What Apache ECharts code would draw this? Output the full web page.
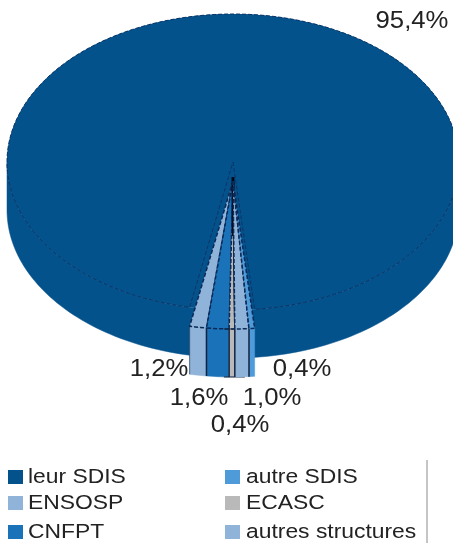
<!DOCTYPE html>
<html>
<head>
<meta charset="utf-8">
<style>html,body{margin:0;padding:0;background:#fff}#c{width:453px;height:543px}</style>
<script src="https://cdn.jsdelivr.net/npm/echarts@6/dist/echarts.min.js"></script>
</head>
<body>
<div id="c"></div>
<script>
// Slices in drawing order (counter-clockwise from the front)
const categories = ['leur SDIS', 'ENSOSP', 'CNFPT', 'ECASC', 'autres structures', 'autre SDIS'];
const values = [95.4, 1.2, 1.6, 0.4, 1.0, 0.4];
const valueLabels = ['95,4%', '1,2%', '1,6%', '0,4%', '1,0%', '0,4%'];
const colors = ['#04528c', '#8fb3d9', '#1a73b8', '#b9b9b9', '#8fb3d9', '#4f9bd9'];
const legendOrder = ['leur SDIS', 'autre SDIS', 'ENSOSP', 'ECASC', 'CNFPT', 'autres structures'];

const CX = 233, CY = 162, RX = 226, RY = 148, DEPTH = 48, EXPLODE = 19, START = 84.5;
const total = values.reduce((a, b) => a + b, 0);

function arc(a0, a1, cy) {
  const n = Math.max(2, Math.ceil(Math.abs(a0 - a1) / 1.5));
  const pts = [];
  for (let i = 0; i <= n; i++) {
    const t = (a0 + (a1 - a0) * i / n) * Math.PI / 180;
    pts.push([CX + RX * Math.cos(t), cy + RY * Math.sin(t)]);
  }
  return pts;
}

function renderSlice(index) {
  return function (params, api) {
    const value = api.value(0);
    const before = values.slice(0, index).reduce((a, b) => a + b, 0);
    const a0 = START - before / total * 360;
    const a1 = a0 - value / total * 360;
    const main = index === 0;
    const cy = CY + (main ? 0 : EXPLODE);
    const color = colors[index];
    const children = [];
    if (main) {
      // the hollow left by the pulled-out slices shows the body of the pie
      children.push({
        type: 'polygon',
        shape: { points: arc(0, 360, CY) },
        style: { fill: color }
      });
      children.push({
        type: 'polygon',
        shape: { points: arc(180, 0, CY).concat(arc(0, 180, CY + DEPTH)) },
        style: { fill: color, stroke: color, lineWidth: 0.5 }
      });
    } else {
      children.push({
        type: 'polygon',
        shape: { points: arc(a0, a1, cy).concat(arc(a1, a0, cy + DEPTH)) },
        style: { fill: color, stroke: color, lineWidth: 0.5 }
      });
    }
    children.push({
      type: 'polygon',
      shape: { points: [[CX, cy]].concat(arc(a0, a1, cy)) },
      style: {
        fill: color,
        stroke: main ? '#0d3566' : '#0c2a58',
        lineWidth: main ? 1 : 1.5,
        lineDash: [4, 2]
      }
    });
    if (!main) {
      const e = arc(a0, a0, cy)[0];
      children.push({
        type: 'line',
        shape: { x1: e[0], y1: e[1], x2: e[0], y2: e[1] + DEPTH },
        style: { stroke: '#14233f', lineWidth: index === 1 ? 0.6 : 1.5 }
      });
    }
    if (categories[index] === 'ECASC') {
      const e = arc(a1, a1, cy)[0];
      [0, DEPTH].forEach(d => children.push({
        type: 'line',
        shape: { x1: e[0] - 11, y1: e[1] + d, x2: e[0] + 10, y2: e[1] + d },
        style: { stroke: '#14233f', lineWidth: 1 }
      }));
      children.push({
        type: 'line',
        shape: { x1: CX, y1: cy, x2: e[0], y2: e[1] },
        style: { stroke: '#0b1730', lineWidth: 1.5 }
      });
      children.push({
        type: 'line',
        shape: { x1: CX, y1: cy - 4, x2: CX + 0.4, y2: cy + 55 },
        style: { stroke: '#050a18', lineWidth: 3 }
      });
    }
    return { type: 'group', children };
  };
}

const labelSpots = [[412, 21], [159, 369], [199, 398], [240, 425], [272, 398], [302, 369]];
const graphics = valueLabels.map((t, i) => ({
  type: 'text', x: labelSpots[i][0], y: labelSpots[i][1], scaleX: 1.07, z: 20,
  style: { text: t, align: 'center', verticalAlign: 'middle', fontFamily: 'Liberation Sans', fontSize: 24, fill: '#222' }
}));

const rows = [477, 503, 532], cols = [[8, 28], [225, 246]];
legendOrder.forEach((name, i) => {
  const y = rows[Math.floor(i / 2)], col = cols[i % 2];
  graphics.push({
    type: 'rect', z: 20,
    shape: { x: col[0], y: y - 7, width: 15, height: 14 },
    style: { fill: colors[categories.indexOf(name)] }
  });
  graphics.push({
    type: 'text', x: col[1], y: y, scaleX: 1.115, z: 20,
    style: { text: name, align: 'left', verticalAlign: 'middle', fontFamily: 'Liberation Sans', fontSize: 20.5, fill: '#222' }
  });
});
graphics.push({
  type: 'line', z: 20,
  shape: { x1: 427, y1: 460, x2: 427, y2: 543 },
  style: { stroke: '#8a8a8a', lineWidth: 1 }
});

const chart = echarts.init(document.getElementById('c'), null, { renderer: 'canvas' });
chart.setOption({
  animation: false,
  backgroundColor: '#fff',
  graphic: { elements: graphics },
  series: categories.map((name, i) => ({
    type: 'custom',
    name,
    coordinateSystem: 'none',
    clip: false,
    silent: true,
    z: 2 + i,
    renderItem: renderSlice(i),
    data: [[values[i]]]
  }))
});
</script>
</body>
</html>
